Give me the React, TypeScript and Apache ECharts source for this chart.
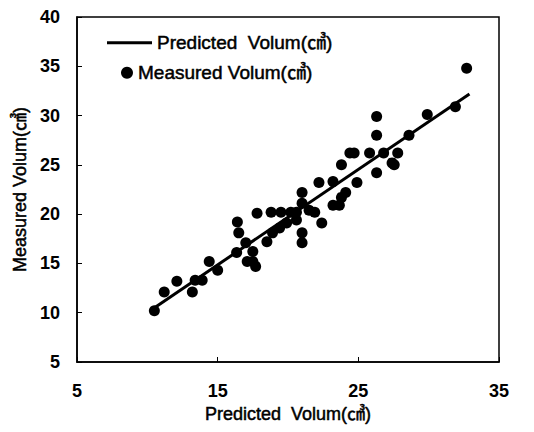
import React, { useEffect, useRef } from "react";
import * as echarts from "echarts";

const predictedX = [10.5, 11.2, 12.1, 13.2, 13.4, 13.9, 14.4, 15.0, 16.35, 16.5, 17.0, 17.1, 16.4, 17.5, 17.5, 17.7, 17.8, 18.8, 19.5, 20.2, 21.0, 21.0, 22.2, 21.9, 22.4, 20.6, 18.5, 18.9, 19.4, 19.9, 21.0, 21.0, 20.6, 23.2, 21.5, 23.2, 23.65, 23.8, 24.1, 24.9, 23.8, 24.4, 24.7, 25.8, 26.3, 26.3, 26.3, 27.55, 27.8, 26.8, 27.4, 28.6, 29.9, 31.9, 32.7];
const measuredY = [10.2, 12.1, 13.2, 12.1, 13.3, 13.3, 15.2, 14.3, 16.1, 18.1, 17.1, 15.2, 19.2, 16.2, 15.2, 14.7, 20.1, 20.2, 20.2, 20.2, 22.2, 21.1, 23.2, 20.2, 19.1, 20.2, 17.2, 18.1, 18.6, 19.1, 18.1, 17.1, 19.4, 23.3, 20.4, 20.9, 20.9, 21.7, 22.2, 23.2, 25.0, 26.2, 26.2, 26.2, 24.2, 28.0, 29.9, 25.0, 26.2, 26.2, 25.2, 28.0, 30.1, 30.9, 34.8];
const fitLineX = [10.3, 32.9];
const fitLineY = [10.3, 32.2];
const xTicks = [5, 15, 25, 35];
const yTicks = [5, 10, 15, 20, 25, 30, 35, 40];

const FONT = "'Liberation Sans', Arial, 'Noto Sans CJK SC', sans-serif";
const predictedName = "Predicted  Volum(㎤)";
const measuredName = "Measured Volum(㎤)";

export default function App() {
  const ref = useRef<HTMLDivElement>(null);
  useEffect(() => {
    if (!ref.current) return;
    const chart = echarts.init(ref.current, null, { renderer: "svg" });
    const tick = { fontSize: 18, fontWeight: "bold", fontFamily: FONT, color: "#000" };
    const name = {
      fontSize: 19,
      fontWeight: "normal",
      fontFamily: FONT,
      color: "#000",
      textBorderColor: "#000",
      textBorderWidth: 0.5,
    };
    chart.setOption({
      animation: false,
      backgroundColor: "#ffffff",
      textStyle: { fontFamily: FONT, color: "#000" },
      grid: {
        left: 77,
        right: 35,
        top: 17,
        bottom: 70,
        show: true,
        borderColor: "#000",
        borderWidth: 1.5,
      },
      legend: [
        {
          data: [{ name: predictedName, icon: "rect" }],
          left: 102,
          top: 28,
          padding: 5,
          itemWidth: 45,
          itemHeight: 3,
          itemGap: 5,
          itemStyle: { color: "#000" },
          textStyle: name,
        },
        {
          data: [{ name: measuredName, icon: "circle" }],
          left: 116,
          top: 58,
          padding: 5,
          itemWidth: 12,
          itemHeight: 12,
          itemGap: 5,
          itemStyle: { color: "#000", opacity: 1 },
          textStyle: name,
        },
      ],
      xAxis: {
        type: "value",
        min: xTicks[0],
        max: xTicks[xTicks.length - 1],
        interval: 10,
        name: predictedName,
        nameLocation: "middle",
        nameGap: 40,
        nameTextStyle: { ...name, fontSize: 18 },
        axisLine: { show: true, lineStyle: { color: "#000", width: 1.5 } },
        axisTick: { show: true, inside: true, length: 5, lineStyle: { color: "#000" } },
        axisLabel: { ...tick, margin: 20 },
        splitLine: { show: false },
      },
      yAxis: {
        type: "value",
        min: yTicks[0],
        max: yTicks[yTicks.length - 1],
        interval: 5,
        name: measuredName,
        nameLocation: "middle",
        nameGap: 47,
        nameTextStyle: { ...name, fontSize: 18 },
        axisLine: { show: true, lineStyle: { color: "#000", width: 1.5 } },
        axisTick: { show: true, inside: true, length: 5, lineStyle: { color: "#000" } },
        axisLabel: { ...tick, margin: 17 },
        splitLine: { show: false },
      },
      series: [
        {
          name: predictedName,
          type: "line",
          data: fitLineX.map((x, i) => [x, fitLineY[i]]),
          symbol: "none",
          lineStyle: { color: "#000", width: 3 },
          itemStyle: { color: "#000" },
          z: 3,
        },
        {
          name: measuredName,
          type: "scatter",
          data: predictedX.map((x, i) => [x, measuredY[i]]),
          symbol: "circle",
          symbolSize: 11,
          itemStyle: { color: "#000", opacity: 1 },
          z: 2,
        },
      ],
    });
    return () => chart.dispose();
  }, []);
  return <div ref={ref} style={{ width: 534, height: 432, marginLeft: -8, marginTop: -8 }} />;
}
